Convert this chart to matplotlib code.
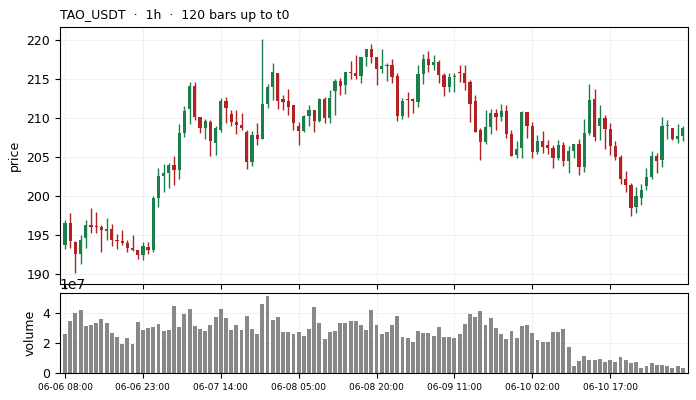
import numpy as np
import pandas as pd
import matplotlib
matplotlib.use('Agg')
import matplotlib.pyplot as plt

# OHLC, 120 hourly bars starting 06-06 08:00
opens = [193.76, 196.54, 194.10, 192.61, 194.62, 196.28, 196.10, 196.00, 195.56, 195.77,
         194.36, 194.19, 193.93, 193.33, 193.03, 192.44, 193.42, 193.03, 199.79, 202.56,
         202.95, 203.97, 203.38, 208.08, 211.20, 214.10, 210.13, 208.76, 209.49, 206.84,
         208.42, 212.18, 210.51, 209.49, 209.10, 208.25, 204.40, 207.82, 207.35, 211.79,
         213.97, 215.77, 212.44, 212.26, 211.67, 208.93, 208.33, 210.26, 211.03, 209.66,
         212.44, 210.00, 213.46, 214.79, 214.27, 215.90, 215.77, 215.43, 217.82, 218.85,
         217.82, 216.32, 216.71, 216.79, 215.38, 210.26, 212.40, 212.44, 212.09, 215.64,
         217.56, 216.79, 217.22, 215.56, 213.97, 215.30, 215.90, 215.81, 214.61, 212.18,
         208.42, 206.92, 208.85, 210.60, 210.17, 210.85, 207.99, 205.26, 206.15, 210.77,
         209.02, 205.64, 207.01, 206.50, 206.15, 204.91, 206.50, 204.49, 205.81, 206.67,
         203.72, 208.08, 212.44, 209.02, 210.00, 208.59, 206.41, 205.00, 202.22, 201.45,
         198.55, 199.70, 201.28, 202.48, 205.09, 204.66, 209.02, 208.68, 207.35, 207.69]
highs = [196.88, 197.78, 194.20, 194.96, 196.88, 198.46, 197.91, 196.28, 197.18, 196.37,
         195.13, 195.60, 194.36, 194.96, 193.12, 194.10, 194.10, 199.96, 203.55, 204.06,
         204.23, 205.09, 209.27, 211.54, 214.62, 214.70, 210.20, 209.91, 209.79, 208.93,
         212.52, 212.69, 211.03, 211.03, 210.60, 208.42, 208.33, 209.32, 220.20, 214.32,
         217.14, 215.80, 212.95, 213.68, 211.70, 209.44, 210.34, 211.67, 211.10, 212.52,
         212.69, 213.55, 215.04, 215.21, 215.98, 217.39, 218.16, 217.90, 218.93, 219.57,
         217.90, 218.85, 217.14, 217.65, 215.81, 212.52, 213.38, 212.52, 216.88, 218.25,
         218.68, 218.16, 217.48, 215.81, 215.73, 215.81, 216.88, 216.88, 214.87, 212.95,
         208.76, 211.03, 211.11, 211.11, 211.75, 211.67, 208.50, 207.01, 210.94, 210.80,
         209.44, 207.78, 208.33, 207.18, 206.50, 207.18, 206.92, 206.41, 206.70, 207.35,
         209.87, 214.36, 213.68, 211.67, 210.43, 209.36, 207.01, 205.26, 203.25, 201.62,
         201.20, 201.54, 203.55, 205.73, 205.51, 210.09, 209.79, 208.76, 209.19, 209.02]
lows = [193.16, 193.33, 190.09, 191.24, 193.33, 195.21, 195.21, 192.86, 194.36, 193.59,
        193.16, 193.76, 192.78, 192.95, 191.92, 191.84, 192.61, 192.78, 198.55, 200.56,
        200.98, 201.45, 202.22, 207.61, 209.19, 209.70, 208.12, 207.26, 205.09, 205.26,
        208.25, 209.40, 208.93, 207.99, 208.42, 203.42, 203.80, 206.50, 207.26, 211.28,
        212.35, 211.11, 211.03, 210.43, 208.50, 206.58, 208.25, 208.93, 208.25, 209.49,
        209.40, 209.32, 210.34, 213.03, 213.12, 214.96, 214.96, 214.53, 216.71, 217.14,
        214.27, 215.81, 214.79, 214.53, 209.66, 209.91, 210.17, 210.68, 211.45, 214.44,
        215.98, 216.15, 214.53, 212.86, 213.38, 213.38, 214.70, 213.63, 209.53, 208.16,
        204.57, 206.67, 207.99, 208.50, 209.62, 207.48, 205.09, 204.83, 204.91, 207.48,
        204.91, 205.34, 205.56, 205.43, 203.55, 204.66, 203.89, 202.91, 204.91, 202.65,
        203.08, 207.78, 207.09, 207.18, 205.98, 205.26, 204.66, 201.54, 200.56, 197.44,
        197.78, 198.85, 200.81, 202.22, 202.91, 203.72, 207.35, 207.18, 206.84, 207.09]
closes = [196.54, 194.27, 192.61, 194.36, 196.28, 196.07, 196.00, 195.60, 195.77, 194.36,
          194.19, 193.93, 193.33, 193.12, 192.44, 193.59, 193.12, 199.79, 202.56, 202.95,
          203.97, 203.38, 208.08, 210.90, 214.10, 210.13, 208.76, 209.62, 207.09, 208.76,
          212.18, 211.32, 209.49, 209.10, 208.76, 204.40, 207.82, 207.35, 211.79, 213.97,
          215.90, 212.18, 212.09, 211.45, 209.40, 208.33, 210.26, 211.03, 209.66, 212.44,
          210.00, 212.52, 214.79, 214.10, 215.90, 215.80, 215.43, 217.82, 218.85, 217.82,
          216.32, 216.71, 216.79, 215.30, 210.26, 212.18, 212.30, 212.18, 215.64, 217.56,
          216.79, 217.22, 215.56, 213.97, 215.30, 215.47, 215.80, 214.53, 211.84, 208.25,
          206.92, 208.85, 210.60, 210.17, 210.85, 207.99, 205.17, 205.98, 210.77, 209.02,
          205.64, 207.01, 206.32, 206.15, 204.91, 206.50, 204.49, 205.81, 206.67, 203.72,
          208.08, 212.35, 207.61, 210.00, 208.59, 206.41, 205.00, 202.22, 201.45, 198.46,
          199.96, 200.81, 202.39, 205.09, 204.49, 208.93, 209.10, 207.35, 207.69, 208.68]
# volume in units of 1e7
volumes = [2.62, 3.49, 4.02, 4.22, 3.16, 3.24, 3.36, 3.62, 3.36, 2.69,
           2.42, 1.96, 2.36, 1.96, 3.42, 2.89, 3.02, 3.09, 3.29, 2.82,
           2.89, 4.49, 3.09, 3.96, 4.29, 3.16, 2.96, 2.82, 3.22, 3.76,
           4.29, 3.69, 2.89, 3.22, 2.89, 3.82, 2.96, 2.62, 4.62, 5.16,
           3.56, 3.76, 2.76, 2.76, 2.62, 2.76, 2.49, 2.96, 4.42, 3.36,
           2.29, 2.76, 2.82, 3.36, 3.36, 3.49, 3.49, 3.22, 2.89, 4.22,
           3.22, 2.62, 2.76, 3.22, 3.82, 2.42, 2.36, 2.09, 2.82, 2.69,
           2.69, 2.49, 3.09, 2.42, 2.42, 2.36, 2.62, 3.29, 3.96, 3.76,
           4.16, 3.22, 3.69, 3.02, 2.62, 2.29, 2.82, 2.36, 3.16, 3.22,
           2.69, 2.22, 2.09, 2.09, 2.76, 2.76, 2.96, 1.76, 0.49, 0.82,
           1.16, 0.89, 0.89, 0.96, 0.76, 0.89, 0.76, 1.09, 0.89, 0.69,
           0.76, 0.36, 0.49, 0.69, 0.56, 0.56, 0.49, 0.36, 0.49, 0.36]

times = pd.date_range('2024-06-06 08:00', periods=120, freq='h')
df = pd.DataFrame({'open': opens, 'high': highs, 'low': lows, 'close': closes,
                   'volume': np.array(volumes) * 1e7}, index=times)

UP = '#1a7f4b'
DOWN = '#b22222'

fig = plt.figure(figsize=(6.96, 4.0), dpi=100)
ax = fig.add_axes([0.086, 0.29, 0.9025, 0.6425])
axv = fig.add_axes([0.086, 0.0675, 0.9025, 0.2], sharex=ax)

x = np.arange(len(df))
up = df['close'] >= df['open']
colors = np.where(up, UP, DOWN)

ax.vlines(x, df['low'], df['high'], colors=colors, linewidth=1.0, zorder=2)
body_bottom = np.minimum(df['open'], df['close'])
body_height = np.abs(df['close'] - df['open'])
body_height = np.maximum(body_height, 0.08)
ax.bar(x, body_height, bottom=body_bottom, width=0.62, color=colors, linewidth=0, zorder=3)

axv.bar(x, df['volume'], width=0.75, color='#888888', linewidth=0)

for a in (ax, axv):
    a.grid(True, color='#eeeeee', linewidth=0.6)
    a.set_axisbelow(True)
    a.tick_params(labelsize=9)

ax.set_xlim(-1, 120)
ax.set_ylim(188.7, 221.7)
axv.set_ylim(0, 5.35e7)
ax.set_ylabel('price', fontsize=9)
axv.set_ylabel('volume', fontsize=9)
ax.set_title('TAO_USDT  ·  1h  ·  120 bars up to t0', loc='left', fontsize=9)

ticks = x[::15]
axv.set_xticks(ticks)
axv.set_xticklabels([t.strftime('%m-%d %H:%M') for t in times[::15]], fontsize=6.5)
plt.setp(ax.get_xticklabels(), visible=False)

fig.savefig('out.png', dpi=100)
